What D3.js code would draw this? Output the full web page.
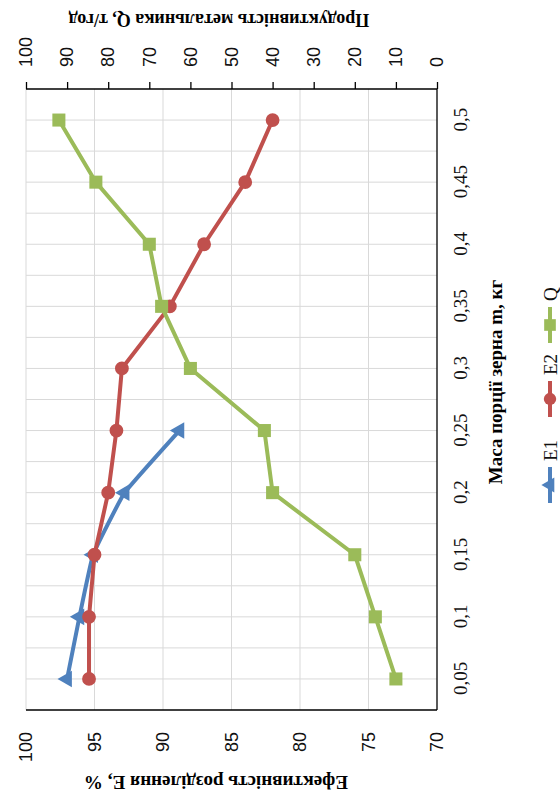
<!DOCTYPE html>
<html>
<head>
<meta charset="utf-8">
<script src="https://cdn.jsdelivr.net/npm/d3@7"></script>
<style>
  html, body { margin: 0; padding: 0; background: #fff; }
  svg { display: block; }
</style>
</head>
<body>
<svg id="chart" width="560" height="803"></svg>
<script>
// Grain portion mass (kg) on the category axis
const categories = ["0,05", "0,1", "0,15", "0,2", "0,25", "0,3", "0,35", "0,4", "0,45", "0,5"];
// Separation efficiency E, %
const e1 = [97.0, 96.1, 95.1, 92.8, 88.8, null, null, null, null, null];
const e2 = [95.4, 95.4, 95.0, 94.0, 93.4, 93.0, 89.5, 87.0, 84.0, 82.0];
// Thrower throughput Q, t/h
const q = [10, 15, 20, 40, 42, 60, 67, 70, 83, 92];
// Axis ticks
const eTicks = [70, 75, 80, 85, 90, 95, 100];
const qTicks = [0, 10, 20, 30, 40, 50, 60, 70, 80, 90, 100];

const seriesNames = ["E1", "E2", "Q"];
const colors = { E1: "#4F81BD", E2: "#C0504D", Q: "#9BBB59" };

const plot = { left: 93, right: 714, top: 26, bottom: 437 };

const svg = d3.select("#chart");
// the chart is laid out in its own 803x560 frame and turned a quarter left
const g = svg.append("g").attr("transform", "translate(0,803) rotate(-90)");

const x = d3.scalePoint().domain(categories).range([plot.left, plot.right]).padding(0.5);
const yE = d3.scaleLinear().domain([70, 100]).range([plot.bottom, plot.top]);
const yQ = d3.scaleLinear().domain([0, 100]).range([plot.bottom, plot.top]);

// gridlines
const grid = g.append("g").attr("stroke", "#d9d9d9").attr("stroke-width", 1);
const step = x.step();
const gx = [];
categories.forEach(c => { gx.push(x(c)); gx.push(x(c) + step / 2); });
gx.pop();
grid.selectAll("line.v").data(gx).join("line")
  .attr("x1", d => d).attr("x2", d => d)
  .attr("y1", plot.top).attr("y2", plot.bottom);
grid.selectAll("line.h").data(eTicks.filter(t => t > 70)).join("line")
  .attr("x1", plot.left).attr("x2", plot.right)
  .attr("y1", d => yE(d)).attr("y2", d => yE(d));

// left axis: E
const axE = g.append("g").attr("transform", `translate(${plot.left},0)`)
  .call(d3.axisLeft(yE).tickValues(eTicks).tickSize(0).tickPadding(22).tickFormat(d3.format("d")));
// right axis: Q
const axQ = g.append("g").attr("transform", `translate(${plot.right},0)`)
  .call(d3.axisRight(yQ).tickValues(qTicks).tickSize(7).tickPadding(15).tickFormat(d3.format("d")));
// bottom axis: mass
const axM = g.append("g").attr("transform", `translate(0,${plot.bottom})`)
  .call(d3.axisBottom(x).tickSize(0).tickPadding(17));

[axE, axQ, axM].forEach(a => {
  a.select(".domain").attr("stroke", "#000").attr("stroke-width", 1.3);
  a.selectAll(".tick line").attr("stroke", "#000").attr("stroke-width", 1.3);
  a.selectAll(".tick text").attr("fill", "#111");
});
axE.selectAll(".tick text").attr("font-family", "'Liberation Sans', Arial, sans-serif").attr("font-size", 18);
axQ.selectAll(".tick text").attr("font-family", "'Liberation Sans', Arial, sans-serif").attr("font-size", 18);
axM.selectAll(".tick text").attr("font-family", "'Liberation Serif', 'Times New Roman', serif").attr("font-size", 19);
// plain axis lines without end caps
axE.select(".domain").attr("d", `M0,${plot.top}V${plot.bottom}`);
axQ.select(".domain").attr("d", `M0,${plot.top}V${plot.bottom}`);
axM.select(".domain").attr("d", `M${plot.left},0H${plot.right}`);

// axis titles
const titleFont = "'Liberation Serif', 'Times New Roman', serif";
g.append("text")
  .attr("transform", `translate(21,216) rotate(-90)`)
  .attr("text-anchor", "middle").attr("dominant-baseline", "central")
  .attr("font-family", titleFont).attr("font-weight", "bold").attr("font-size", 19)
  .text("Ефективність розділення Е, %");
g.append("text")
  .attr("transform", `translate(783,219) rotate(-90)`)
  .attr("text-anchor", "middle").attr("dominant-baseline", "central")
  .attr("font-family", titleFont).attr("font-weight", "bold").attr("font-size", 18)
  .text("Продуктивність метальника Q, т/год");
g.append("text")
  .attr("x", 421).attr("y", 495)
  .attr("text-anchor", "middle").attr("dominant-baseline", "central")
  .attr("font-family", titleFont).attr("font-weight", "bold").attr("font-size", 19)
  .text("Маса порції зерна m, кг");

// markers
const markerSym = { E1: d3.symbolTriangle, E2: d3.symbolCircle, Q: d3.symbolSquare };
const markerSize = { E1: 120, E2: 150, Q: 170 };

const data = { E1: e1, E2: e2, Q: q };
const yOf = { E1: yE, E2: yE, Q: yQ };
const curves = { E1: d3.curveCardinal.tension(0.7), E2: d3.curveLinear, Q: d3.curveLinear };

seriesNames.forEach(name => {
  const pts = categories.map((c, i) => ({ c, v: data[name][i] })).filter(p => p.v != null);
  const line = d3.line().x(p => x(p.c)).y(p => yOf[name](p.v)).curve(curves[name]);
  const sg = g.append("g");
  sg.append("path").datum(pts).attr("d", line)
    .attr("fill", "none").attr("stroke", colors[name]).attr("stroke-width", 4)
    .attr("stroke-linejoin", "round").attr("stroke-linecap", "round");
  sg.selectAll("path.m").data(pts).join("path").attr("class", "m")
    .attr("transform", p => `translate(${x(p.c)},${yOf[name](p.v)})`)
    .attr("d", d3.symbol().type(markerSym[name]).size(markerSize[name]))
    .attr("fill", colors[name]);
});

// legend
const legendX = [300, 386, 460];
const legend = g.append("g").attr("transform", "translate(0,550)");
seriesNames.forEach((name, i) => {
  const it = legend.append("g").attr("transform", `translate(${legendX[i]},0)`);
  it.append("line").attr("x1", 0).attr("x2", 36).attr("y1", 0).attr("y2", 0)
    .attr("stroke", colors[name]).attr("stroke-width", 4);
  it.append("path").attr("transform", "translate(18,0)")
    .attr("d", d3.symbol().type(markerSym[name]).size(markerSize[name] * 0.8))
    .attr("fill", colors[name]);
  it.append("text").attr("x", 42).attr("y", 0)
    .attr("dominant-baseline", "central")
    .attr("font-family", titleFont).attr("font-size", 19).attr("fill", "#111")
    .text(name);
});
</script>
</body>
</html>
